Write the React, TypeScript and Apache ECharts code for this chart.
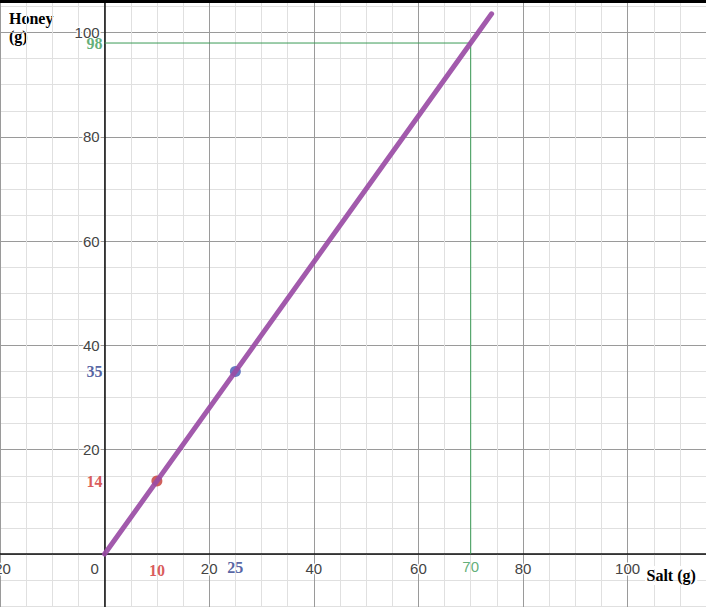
import { useEffect, useRef } from 'react';
import * as echarts from 'echarts';

// proportional relationship: honey = 1.4 * salt
const lineSalt = [0, 74];
const lineHoney = [0, 103.6];

const pointSalt = [10, 25];
const pointHoney = [14, 35];
const pointColors = ['#c74440', '#4f62b8'];
const pointTextColors = ['#d03030', '#2b3c8c'];

const guideSalt = [0, 70, 70];
const guideHoney = [98, 98, 0];
const guideColor = '#3a9a55';

const xRange = [-20, 120];
const yRange = [-20, 120];
const majorStep = 20;

const serifBold = { fontFamily: '"Liberation Serif", "Times New Roman", serif', fontWeight: 'bold' as const, fontSize: 16 };
const halo = { textBorderColor: '#fff', textBorderWidth: 3 };

const App = () => {
    const chartRef = useRef<HTMLDivElement>(null);

    useEffect(() => {
        if (!chartRef.current) return;
        const chart = echarts.init(chartRef.current, null, { renderer: 'svg' });

        const kx = 5.23;
        const ky = 5.214;
        const tickFmt = (v: number) => (v % majorStep === 0 && v <= 100 ? String(v) : '');

        // colored value labels sitting on the axes
        const yMarks = [
            { value: guideHoney[0], color: guideColor },
            ...pointHoney.map((v, i) => ({ value: v, color: pointTextColors[i] }))
        ];
        const xMarks = [
            ...pointSalt.map((v, i) => ({ value: v, color: pointTextColors[i], sans: false, gap: i === 0 ? 8 : 5 })),
            { value: guideSalt[1], color: guideColor, sans: true, gap: 5 }
        ];

        chart.setOption({
            animation: false,
            backgroundColor: '#fff',
            grid: {
                left: 0,
                width: (xRange[1] - xRange[0]) * kx,
                top: 554 - yRange[1] * ky,
                height: (yRange[1] - yRange[0]) * ky,
                containLabel: false,
                outerBoundsMode: 'none'
            },
            xAxis: {
                type: 'value',
                min: xRange[0],
                max: xRange[1],
                interval: majorStep,
                // move the axis from the grid's bottom up to y = 0
                offset: yRange[0] * ky,
                axisLine: { onZero: false, lineStyle: { color: '#111', width: 1.5 } },
                axisTick: { show: false },
                axisLabel: {
                    showMinLabel: true,
                    margin: 7,
                    fontSize: 15,
                    fontFamily: '"Liberation Sans", Arial, sans-serif',
                    color: '#444',
                    ...halo,
                    formatter: (v: number) => (v === 0 ? '{o|0}' : tickFmt(v)),
                    rich: { o: { padding: [0, 20, 0, 0], fontSize: 15, color: '#444' } }
                },
                splitLine: { show: true, lineStyle: { color: '#9a9a9a', width: 1 } },
                minorTick: { show: false, splitNumber: 4 },
                minorSplitLine: { show: true, lineStyle: { color: '#e0e0e0', width: 1 } }
            },
            yAxis: {
                type: 'value',
                min: yRange[0],
                max: yRange[1],
                interval: majorStep,
                // move the axis from the grid's left edge to x = 0
                offset: xRange[0] * kx,
                axisLine: { onZero: false, lineStyle: { color: '#111', width: 1.5 } },
                axisTick: { show: false },
                axisLabel: {
                    margin: 5,
                    fontSize: 15,
                    fontFamily: '"Liberation Sans", Arial, sans-serif',
                    color: '#444',
                    ...halo,
                    formatter: (v: number) => (v <= 0 ? '' : tickFmt(v))
                },
                splitLine: { show: true, lineStyle: { color: '#9a9a9a', width: 1 } },
                minorTick: { show: false, splitNumber: 4 },
                minorSplitLine: { show: true, lineStyle: { color: '#e0e0e0', width: 1 } }
            },
            graphic: [
                { type: 'rect', shape: { x: 0, y: 0, width: 706, height: 3 }, style: { fill: '#000' }, z: 100 },
                { type: 'text', left: 9, top: 9, style: { text: 'Honey\n(g)', lineHeight: 18, fill: '#000', ...serifBold } },
                { type: 'text', left: 645, top: 566, z: 100, style: { text: 'Salt (g)', fill: '#000', ...serifBold, ...halo } }
            ],
            series: [
                {
                    type: 'line',
                    data: guideSalt.map((x, i) => [x, guideHoney[i]]),
                    symbol: 'none',
                    lineStyle: { color: guideColor, width: 1 },
                    z: 2,
                    silent: true
                },
                {
                    type: 'scatter',
                    data: pointSalt.map((x, i) => ({ value: [x, pointHoney[i]], itemStyle: { color: pointColors[i] } })),
                    symbolSize: 11,
                    itemStyle: { opacity: 0.85 },
                    z: 3
                },
                {
                    type: 'line',
                    data: lineSalt.map((x, i) => [x, lineHoney[i]]),
                    symbol: 'none',
                    lineStyle: { color: '#9a4ca5', width: 5, cap: 'round', opacity: 0.92 },
                    z: 4
                },
                {
                    type: 'scatter',
                    symbolSize: 0,
                    silent: true,
                    z: 5,
                    data: [
                        ...yMarks.map((m) => ({
                            value: [0, m.value],
                            label: { show: true, position: 'left', distance: 2, formatter: String(m.value), color: m.color, ...serifBold }
                        })),
                        ...xMarks.map((m) => ({
                            value: [m.value, 0],
                            label: m.sans
                                ? { show: true, position: 'bottom', distance: m.gap, formatter: String(m.value), color: m.color, fontSize: 15, fontFamily: '"Liberation Sans", Arial, sans-serif' }
                                : { show: true, position: 'bottom', distance: m.gap, formatter: String(m.value), color: m.color, ...serifBold }
                        }))
                    ]
                }
            ]
        });

        return () => chart.dispose();
    }, []);

    return <div ref={chartRef} style={{ position: 'fixed', left: 0, top: 0, width: 706, height: 607 }} />;
};

export default App;
